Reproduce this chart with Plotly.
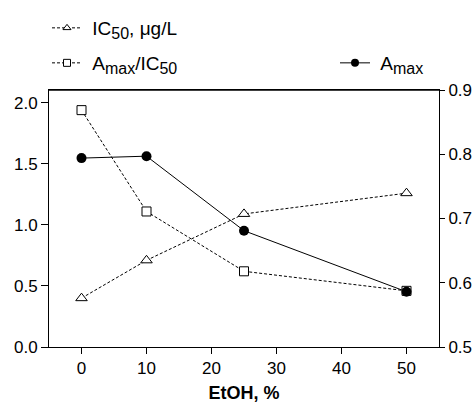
import plotly.graph_objects as go

etoh = [0, 10, 25, 50]
ic50 = [0.40, 0.71, 1.09, 1.26]
amax_ic50 = [1.94, 1.11, 0.62, 0.46]
amax = [0.794, 0.797, 0.681, 0.586]

x_ticks = [0, 10, 20, 30, 40, 50]
y_ticks = [0.0, 0.5, 1.0, 1.5, 2.0]
y2_ticks = [0.5, 0.6, 0.7, 0.8, 0.9]

FONT = "Liberation Sans, Arial, sans-serif"
DASH = "3px,2px"
TICK_SIZE = 17
LEG_SIZE = 19
SUB = "<sub><span style='font-size:16px'>{}</span></sub>"
NB = "\u00a0"

fig = go.Figure()

fig.add_trace(go.Scatter(
    x=etoh, y=ic50, mode="lines+markers", showlegend=False,
    line=dict(color="black", width=1, dash=DASH),
    marker=dict(symbol="triangle-up", size=10, color="white",
                line=dict(color="black", width=1)),
))
fig.add_trace(go.Scatter(
    x=etoh, y=amax_ic50, mode="lines+markers", showlegend=False,
    line=dict(color="black", width=1, dash=DASH),
    marker=dict(symbol="square", size=9, color="white",
                line=dict(color="black", width=1)),
))
fig.add_trace(go.Scatter(
    x=etoh, y=amax, mode="lines+markers", showlegend=False, yaxis="y2",
    line=dict(color="black", width=1),
    marker=dict(symbol="circle", size=10, color="black"),
))

# legend entries
fig.add_trace(go.Scatter(
    x=[None], y=[None], mode="lines+markers",
    name=NB + "IC" + SUB.format("50") + ", μg/L",
    legend="legend",
    line=dict(color="black", width=1, dash=DASH),
    marker=dict(symbol="triangle-up", size=7, color="white",
                line=dict(color="black", width=1)),
))
fig.add_trace(go.Scatter(
    x=[None], y=[None], mode="lines+markers",
    name=NB + "A" + SUB.format("max") + "/IC" + SUB.format("50"),
    legend="legend2",
    line=dict(color="black", width=1, dash=DASH),
    marker=dict(symbol="square", size=7, color="white",
                line=dict(color="black", width=1)),
))
fig.add_trace(go.Scatter(
    x=[None], y=[None], mode="lines+markers",
    name=NB + "A" + SUB.format("max"),
    legend="legend3",
    line=dict(color="black", width=1),
    marker=dict(symbol="circle", size=8, color="black"),
))

leg_common = dict(xref="container", yref="container", xanchor="left", yanchor="middle",
                  bgcolor="rgba(0,0,0,0)", font=dict(family=FONT, size=LEG_SIZE, color="black"),
                  borderwidth=0)

fig.update_layout(
    width=474, height=408,
    margin=dict(l=49, r=35, t=90, b=61, autoexpand=False),
    paper_bgcolor="white", plot_bgcolor="white",
    font=dict(family=FONT, size=TICK_SIZE, color="black"),
    legend=dict(x=47/474, y=1 - 28/408, **leg_common),
    legend2=dict(x=47/474, y=1 - 63/408, **leg_common),
    legend3=dict(x=335/474, y=1 - 63/408, **leg_common),
    shapes=[
        dict(type="line", xref="paper", yref="paper", x0=0, x1=1, y0=1, y1=1,
             layer="above", line=dict(color="black", width=1.5)),
    ],
    xaxis=dict(
        range=[-5, 55], tickvals=x_ticks, ticktext=[str(v) for v in x_ticks],
        showline=True, linecolor="black", linewidth=1, mirror=True,
        ticks="outside", ticklen=6, tickcolor="black",
        showgrid=False, zeroline=False,
        title=dict(text="<b>EtOH, %</b>", font=dict(size=18), standoff=8),
        tickfont=dict(size=TICK_SIZE),
    ),
    yaxis=dict(
        range=[0, 2.105], tickvals=y_ticks, ticktext=[f"{v:.1f}" for v in y_ticks],
        showline=True, linecolor="black", linewidth=1,
        ticks="outside", ticklen=7, tickcolor="black",
        showgrid=False, zeroline=False, tickfont=dict(size=TICK_SIZE),
    ),
    yaxis2=dict(
        range=[0.5, 0.9], tickvals=y2_ticks, ticktext=[f"{v:.1f}" for v in y2_ticks],
        overlaying="y", side="right",
        showline=True, linecolor="black", linewidth=1,
        ticks="outside", ticklen=5, tickcolor="black",
        showgrid=False, zeroline=False, tickfont=dict(size=TICK_SIZE),
    ),
)

fig.write_html("out.html", config={"displayModeBar": False},
               post_script="document.body.style.margin='0';")
